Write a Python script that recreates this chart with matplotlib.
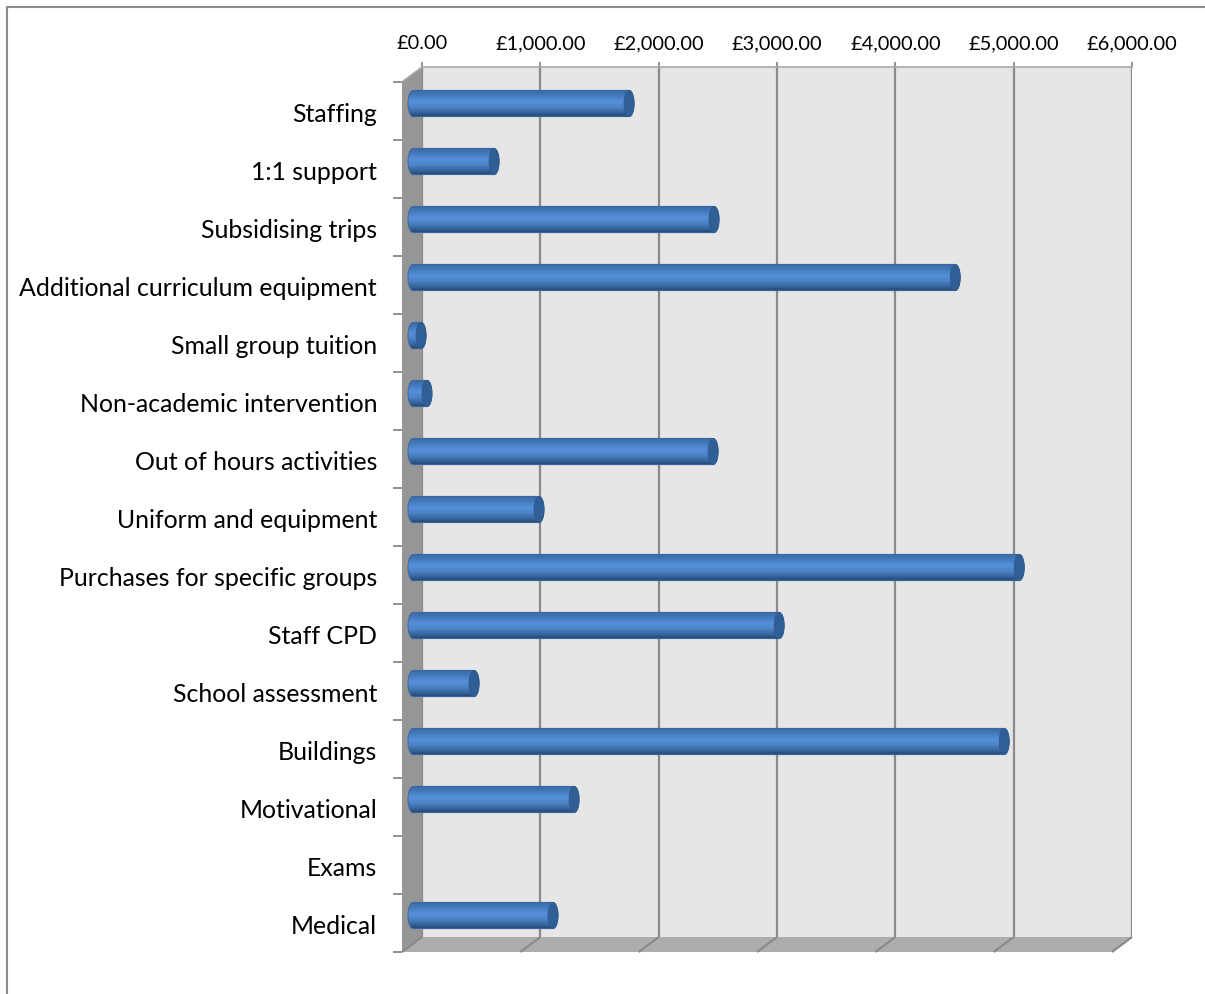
import numpy as np
import matplotlib
matplotlib.use("Agg")
import matplotlib.pyplot as plt
from matplotlib.colors import LinearSegmentedColormap
from matplotlib.patches import Ellipse, Polygon, PathPatch
from matplotlib.path import Path
from matplotlib.ticker import FuncFormatter
from matplotlib.transforms import ScaledTranslation

categories = ["Staffing", "1:1 support", "Subsidising trips",
              "Additional curriculum equipment", "Small group tuition",
              "Non-academic intervention", "Out of hours activities",
              "Uniform and equipment", "Purchases for specific groups",
              "Staff CPD", "School assessment", "Buildings", "Motivational",
              "Exams", "Medical"]
values = [1826, 685, 2544, 4582, 68, 118, 2536, 1065, 5123, 3094, 516, 4996, 1361, 0, 1183]
x_ticks = [0, 1000, 2000, 3000, 4000, 5000, 6000]

W, H = 1205, 994
plt.rcParams["font.family"] = ["Lato", "DejaVu Sans"]
fig = plt.figure(figsize=(W / 100, H / 100), dpi=100, facecolor="white")

def px_axes(x0, y0, x1, y1, **kw):
    return fig.add_axes([x0 / W, 1 - y1 / H, (x1 - x0) / W, (y1 - y0) / H], **kw)

# chart frame and the 3D side wall / floor in pixel coordinates
bg = px_axes(0, 0, W, H)
bg.set_xlim(0, W); bg.set_ylim(H, 0); bg.axis("off")
bg.plot([7, 7, W], [H, 6.5, 6.5], color="#8c8c8c", lw=1.5, solid_joinstyle="miter")
BX0, BX1, BY0, BY1 = 422, 1132, 67, 937   # back wall
DX, DY = -20, 15                          # depth offset of front plane
bg.add_patch(Polygon([(BX0 + DX, BY0 + DY), (BX0, BY0), (BX0, BY1), (BX0 + DX, BY1 + DY)],
                     fc="#969696", ec="none"))
bg.add_patch(Polygon([(BX0 + DX, BY1 + DY), (BX0, BY1), (BX1, BY1), (BX1 + DX, BY1 + DY)],
                     fc="#adadad", ec="none"))
bg.plot([BX0 + DX, BX0], [BY0 + DY, BY0], color="#a8a8a8", lw=1.2)
for v in x_ticks:
    xp = BX0 + (BX1 - BX0) * v / 6000
    bg.plot([xp, xp + DX], [BY1, BY1 + DY], color="#8a8a8a", lw=1.6, solid_capstyle="butt")

ylim = (14.5, -0.5)
xlim = (0, 6000)

# back wall: gridlines and the top value axis
back = px_axes(BX0, BY0, BX1, BY1, facecolor="#e6e6e6")
back.patch.set_zorder(0)
back.set_xlim(xlim); back.set_ylim(ylim)
back.set_xticks(x_ticks)
back.xaxis.set_major_formatter(FuncFormatter(lambda v, _: f"£{v:,.2f}"))
back.xaxis.tick_top()
back.tick_params(axis="x", length=3.6, width=1.3, color="#8a8a8a", pad=7, labelsize=14.4, labelcolor="black")
back.set_yticks([])
back.grid(axis="x", color="#8a8a8a", lw=1.6)
back.set_axisbelow(True)
for s in back.spines.values():
    s.set_visible(False)
back.spines["top"].set_visible(True)
back.spines["top"].set_color("#a8a8a8")
back.spines["top"].set_linewidth(1.2)

# front plane: category axis
front = px_axes(BX0 + DX, BY0 + DY, BX1 + DX, BY1 + DY)
front.patch.set_alpha(0)
front.set_xlim(xlim); front.set_ylim(ylim)
front.set_xticks([])
front.set_yticks(np.arange(-0.5, 15, 1))
front.set_yticklabels([])
front.tick_params(axis="y", which="major", length=6.5, width=1.3, color="#8a8a8a")
front.set_yticks(np.arange(len(categories)), minor=True)
front.set_yticklabels(categories, minor=True, fontsize=17.9, color="black")
front.tick_params(axis="y", which="minor", length=0, pad=18)
nudge = ScaledTranslation(0, -1 / 100, fig.dpi_scale_trans)
for lab in front.get_yticklabels(minor=True):
    lab.set_transform(lab.get_transform() + nudge)
for s in front.spines.values():
    s.set_visible(False)

# middle plane: the cylinders
mid = px_axes(BX0 - 9, BY0 + 7.5, BX1 - 9, BY1 + 7.5)
mid.patch.set_alpha(0)
mid.axis("off")
cmap = LinearSegmentedColormap.from_list("cyl", [
    (0.00, "#3a6ba3"), (0.12, "#3f74b4"), (0.42, "#5590da"), (0.62, "#4d84c8"),
    (0.85, "#356399"), (0.93, "#2a5183"), (1.00, "#26497a")])
grad = np.linspace(0, 1, 64).reshape(-1, 1)
bar_h = 0.45
cap_w = 84.5
ys = np.arange(len(values))
bars = mid.barh(ys, values, height=bar_h, color="#4a80c4", linewidth=0)

def capsule(v, y):
    t = np.linspace(np.pi / 2, 3 * np.pi / 2, 30)
    lx = cap_w / 2 * np.cos(t)
    ly = y + bar_h / 2 * np.sin(t)
    t2 = np.linspace(-np.pi / 2, np.pi / 2, 30)
    rx = v + cap_w / 2 * np.cos(t2)
    ry = y + bar_h / 2 * np.sin(t2)
    return np.r_[lx, rx, lx[0]], np.r_[ly, ry, ly[0]]

for y, v in zip(ys, values):
    if v <= 0:
        continue
    cx, cy = capsule(v, y)
    clip = PathPatch(Path(np.c_[cx, cy], closed=False), transform=mid.transData, fc="none", ec="none")
    mid.add_patch(clip)
    clip.set_clip_on(False)
    im = mid.imshow(grad, cmap=cmap, aspect="auto", origin="upper",
                    extent=(-cap_w / 2, v + cap_w / 2, y + bar_h / 2, y - bar_h / 2),
                    interpolation="bilinear", zorder=3)
    im.set_clip_box(fig.bbox)
    im.set_clip_path(clip)
    mid.plot(cx, cy, color="#3a6599", lw=0.8, alpha=0.8, zorder=4, clip_on=False)
    mid.add_patch(Ellipse((v, y), cap_w, bar_h, fc="#305f96", ec="#2f5a8e", lw=0.6,
                          zorder=5, clip_on=False))
mid.set_xlim(xlim); mid.set_ylim(ylim)

fig.savefig("out.png", dpi=100, facecolor="white")
